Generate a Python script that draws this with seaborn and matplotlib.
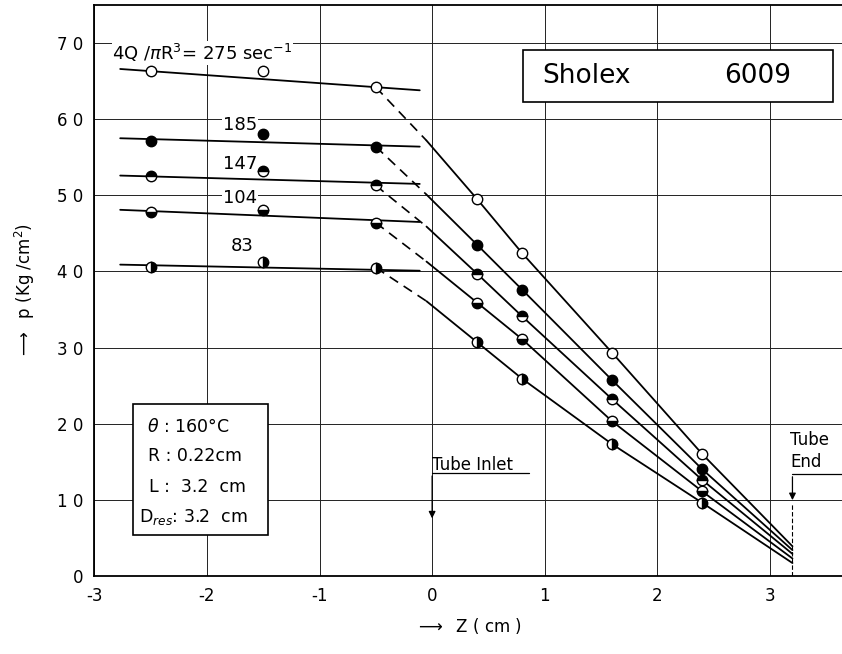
#!/usr/bin/env python3
# -*- coding: utf-8 -*-
"""Pressure profile along reservoir and capillary (Sholex 6009)."""

import matplotlib.pyplot as plt
import numpy as np
import pandas as pd
import seaborn as sns
from matplotlib.patches import Rectangle

# measurement positions (cm)
z_res = [-2.5, -1.5, -0.5]
z_tube = [0.4, 0.8, 1.6, 2.4]

# shear rates 4Q/piR^3 (1/s)
rates = [275, 185, 147, 104, 83]

# measured pressures (kg/cm^2), reservoir side
p_res_275 = [66.4, 66.4, 64.2]
p_res_185 = [57.2, 58.0, 56.4]
p_res_147 = [52.5, 53.2, 51.3]
p_res_104 = [47.8, 48.1, 46.4]
p_res_83 = [40.6, 41.3, 40.5]

# measured pressures (kg/cm^2), inside the tube
p_tube_275 = [49.5, 42.4, 29.3, 16.0]
p_tube_185 = [43.5, 37.6, 25.7, 14.0]
p_tube_147 = [39.7, 34.1, 23.2, 12.6]
p_tube_104 = [35.9, 31.1, 20.3, 11.1]
p_tube_83 = [30.7, 25.9, 17.3, 9.6]

# hand-drawn fit lines in the reservoir
res_fit_z = [-2.77, -0.11]
res_fit_275 = [66.6, 63.8]
res_fit_185 = [57.5, 56.4]
res_fit_147 = [52.6, 51.5]
res_fit_104 = [48.1, 46.5]
res_fit_83 = [40.9, 40.1]

# hand-drawn lines in the tube: start near z=0, end at tube end (3.2)
tube_start_z = -0.05
tube_end_z = 3.2
tube_start_p = [57.2, 50.1, 45.9, 41.3, 36.1]
tube_end_p = [3.9, 3.4, 2.9, 2.3, 1.7]

# shear rate labels
rate_labels = ["4Q /$\\pi$R$^3$= 275 sec$^{-1}$", "185", "147", "104", "83"]
rate_label_z = [-2.84, -1.86, -1.86, -1.86, -1.79]
rate_label_p = [68.7, 59.3, 54.1, 49.7, 43.3]

# experimental conditions
cond_lines = ["$\\theta$ : 160°C", "R : 0.22cm", "L :  3.2  cm", "D$_{res}$: 3.2  cm"]

p_res = [p_res_275, p_res_185, p_res_147, p_res_104, p_res_83]
p_tube = [p_tube_275, p_tube_185, p_tube_147, p_tube_104, p_tube_83]
res_fit = [res_fit_275, res_fit_185, res_fit_147, res_fit_104, res_fit_83]

# marker fill style per shear rate
marker_styles = [
    dict(fillstyle="full", markerfacecolor="white"),
    dict(fillstyle="full", markerfacecolor="black"),
    dict(fillstyle="top", markerfacecolor="black", markerfacecoloralt="white"),
    dict(fillstyle="bottom", markerfacecolor="black", markerfacecoloralt="white"),
    dict(fillstyle="right", markerfacecolor="black", markerfacecoloralt="white"),
]

sns.set_style("white")
plt.rcParams["font.family"] = ["DejaVu Sans"]
plt.rcParams["text.color"] = "black"
plt.rcParams["axes.labelcolor"] = "black"
plt.rcParams["xtick.color"] = "black"
plt.rcParams["ytick.color"] = "black"

fig = plt.figure(figsize=(8.42, 6.54), dpi=100)
ax = fig.add_axes([0.112, 0.1193, 0.888, 0.873])

rows = []
for i, r in enumerate(rates):
    for z, p in zip(res_fit_z, res_fit[i]):
        rows.append(dict(seg=f"res{r}", z=z, p=p))
    tz = [tube_start_z] + z_tube + [tube_end_z]
    tp = [tube_start_p[i]] + p_tube[i] + [tube_end_p[i]]
    for z, p in zip(tz, tp):
        rows.append(dict(seg=f"tube{r}", z=z, p=p))
lines_df = pd.DataFrame(rows)

sns.lineplot(
    data=lines_df, x="z", y="p", units="seg", estimator=None, sort=False,
    color="black", linewidth=1.3, ax=ax, legend=False,
)

for i, r in enumerate(rates):
    # dashed connection from last reservoir point into the tube
    ax.plot([z_res[-1], tube_start_z], [p_res[i][-1], tube_start_p[i]],
            color="black", linestyle=(0, (6, 4)), linewidth=1.2, zorder=3)
    ax.plot(z_res + z_tube, p_res[i] + p_tube[i], linestyle="none",
            marker="o", markersize=7.5, markeredgecolor="black",
            markeredgewidth=1.0, zorder=5, **marker_styles[i])
    ax.text(rate_label_z[i], rate_label_p[i], rate_labels[i], fontsize=13,
            va="center", ha="left", zorder=4,
            bbox=dict(facecolor="white", edgecolor="none", pad=0.5))

ax.set_xlim(-3, 3.64)
ax.set_ylim(0, 75)
ax.set_xticks(np.arange(-3, 4, 1))
ax.set_yticks(np.arange(0, 80, 10))
ax.set_xticklabels(["-3", "-2", "-1", "0", "1", "2", "3"], fontsize=12)
ax.set_yticklabels(["0", "1 0", "2 0", "3 0", "4 0", "5 0", "6 0", "7 0"], fontsize=12)
ax.tick_params(length=0, pad=8)
ax.grid(True, color="#222222", linewidth=0.7)
ax.set_axisbelow(True)
for side in ["left", "bottom", "top"]:
    ax.spines[side].set_color("black")
    ax.spines[side].set_linewidth(1.3)
ax.spines["right"].set_visible(False)

ax.set_xlabel("$\\longrightarrow$  Z ( cm )", fontsize=12, labelpad=8)
ax.set_ylabel("$\\longrightarrow$  p (Kg /cm$^2$)", fontsize=12, labelpad=14)

# sample name box
ax.add_patch(Rectangle((0.81, 62.3), 2.75, 6.8, facecolor="white",
                       edgecolor="black", linewidth=1.2, zorder=6))
ax.text(0.98, 65.7, "Sholex", fontsize=19, va="center", ha="left", zorder=7)
ax.text(3.19, 65.7, "6009", fontsize=19, va="center", ha="right", zorder=7)

# conditions box
ax.add_patch(Rectangle((-2.66, 5.4), 1.2, 17.2, facecolor="white",
                       edgecolor="black", linewidth=1.2, zorder=6))
for txt, zx, py in zip(cond_lines, [-2.53, -2.52, -2.51, -2.60],
                       [19.6, 15.7, 11.7, 7.8]):
    ax.text(zx, py, txt, fontsize=12.5, va="center", ha="left", zorder=7)

# tube inlet / tube end markers
ax.text(0.0, 14.6, "Tube Inlet", fontsize=12, va="center", ha="left")
ax.plot([0.0, 0.86], [13.5, 13.5], color="black", linewidth=0.9)
ax.annotate("", xy=(0.0, 7.2), xytext=(0.0, 13.5),
            arrowprops=dict(arrowstyle="-|>", color="black", lw=0.9,
                            mutation_scale=10))
ax.text(3.18, 16.4, "Tube\nEnd", fontsize=12, va="center", ha="left",
        linespacing=1.3)
ax.plot([3.2, 3.64], [13.4, 13.4], color="black", linewidth=0.9)
ax.annotate("", xy=(3.2, 9.6), xytext=(3.2, 13.4),
            arrowprops=dict(arrowstyle="-|>", color="black", lw=0.9,
                            mutation_scale=10))
ax.plot([3.2, 3.2], [0, 9.6], color="black", linewidth=0.8,
        linestyle=(0, (4, 2)))

fig.savefig("out.png", dpi=100)
plt.close(fig)
